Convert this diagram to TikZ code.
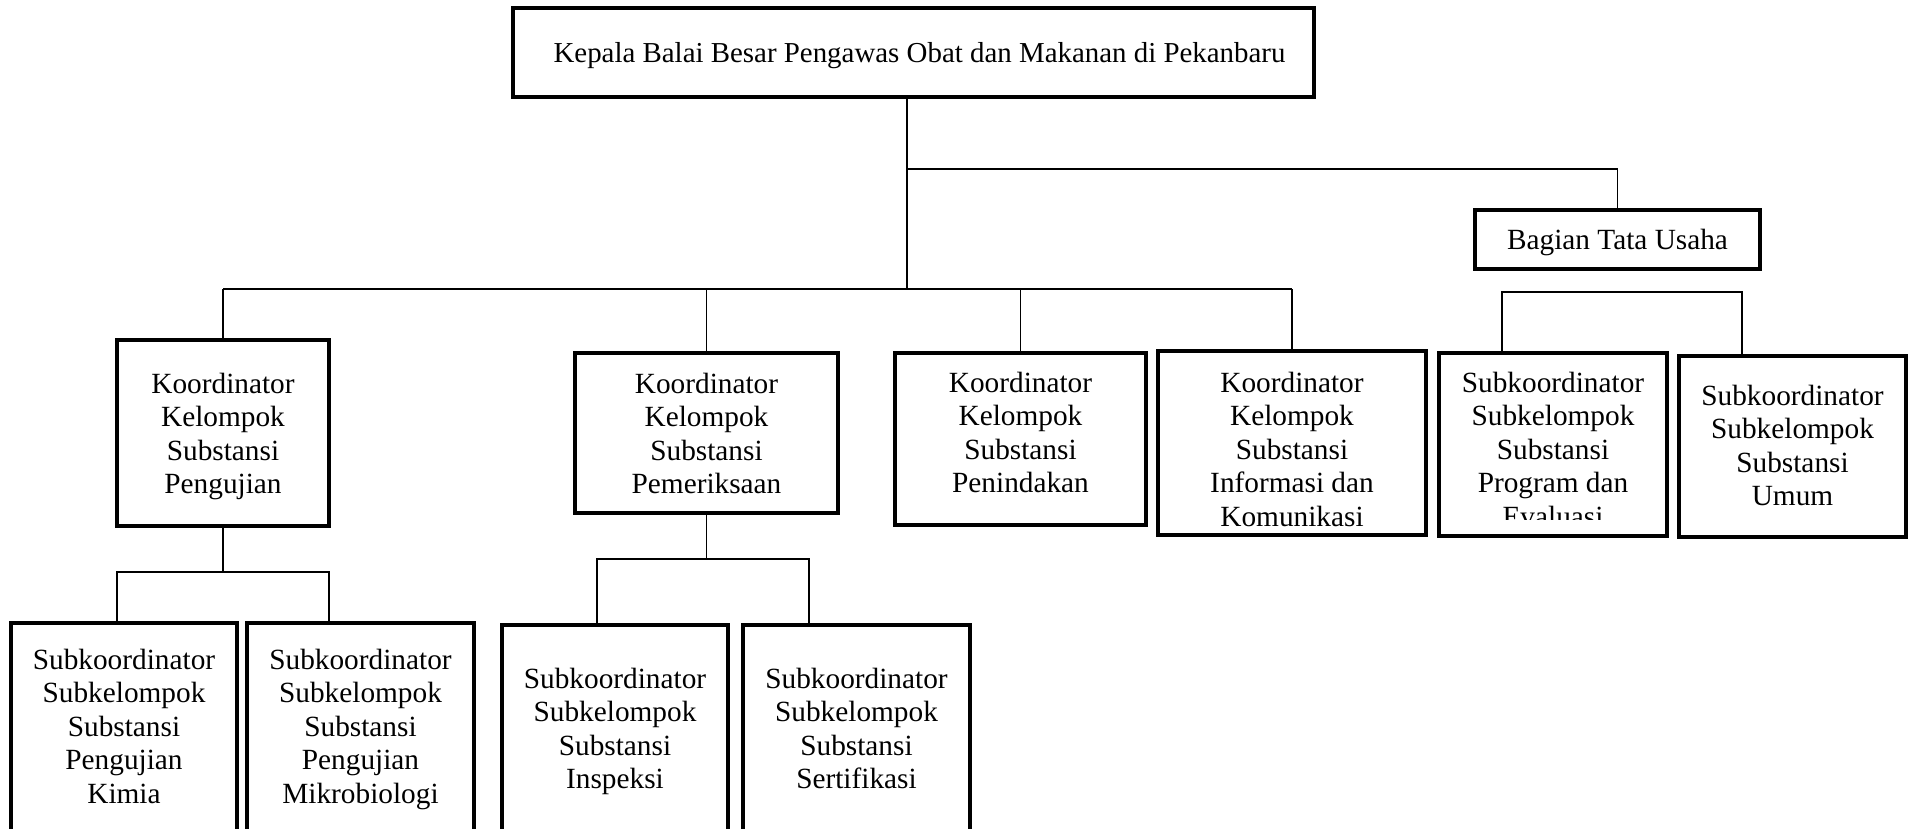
\documentclass[tikz,border=0pt]{standalone}
\usepackage{fontspec}
\setmainfont{Liberation Serif}
\begin{document}
\begin{tikzpicture}[x=1pt,y=-1pt,
  box/.style={draw=black, line width=3.3pt, inner sep=0pt, outer sep=0pt, rectangle},
  txt/.style={inner sep=0pt, outer sep=0pt, align=center, anchor=north, font=\fontsize{29.3}{33.5}\selectfont},
  oneline/.style={font=\fontsize{29.3}{33.5}\selectfont, text depth=0pt},
  link/.style={draw=black, line width=1.4pt}]
\useasboundingbox (0,0) rectangle (1910,829);
\clip (0,0) rectangle (1910,829);

% boxes
\node[box, minimum width=801pt, minimum height=89pt] (top) at (913.5,52.5) {};
\node[oneline, inner sep=0pt, font=\fontsize{28.9}{33.5}\selectfont] (tTop) at (919.5,52.5) {Kepala Balai Besar Pengawas Obat dan Makanan di Pekanbaru};
\node[box, oneline, minimum width=285pt, minimum height=59pt] (tu) at (1617.5,239.5) {Bagian Tata Usaha};

\node[box, minimum width=212pt, minimum height=186pt] (pengujian) at (223,433) {};
\node[box, minimum width=263pt, minimum height=160pt] (pemeriksaan) at (706.5,433) {};
\node[box, minimum width=251pt, minimum height=172pt] (penindakan) at (1020.5,439) {};
\node[box, minimum width=268pt, minimum height=184pt] (informasi) at (1292,443) {};
\node[box, minimum width=228pt, minimum height=183pt] (progeval) at (1553,444.5) {};
\node[box, minimum width=227pt, minimum height=181pt] (umum) at (1792.5,446.5) {};

\node[box, minimum width=226pt, minimum height=227pt] (kimia) at (124,736.5) {};
\node[box, minimum width=227pt, minimum height=227pt] (mikro) at (360.5,736.5) {};
\node[box, minimum width=226pt, minimum height=225pt] (inspeksi) at (615,737.5) {};
\node[box, minimum width=227pt, minimum height=225pt] (sertifikasi) at (856.5,737.5) {};

% texts
\node[txt] (tPengujian) at (223,373) {Koordinator\\Kelompok\\Substansi\\Pengujian};
\node[txt] (tPemeriksaan) at (706.5,373) {Koordinator\\Kelompok\\Substansi\\Pemeriksaan};
\node[txt] (tPenindakan) at (1020.5,372) {Koordinator\\Kelompok\\Substansi\\Penindakan};
\node[txt] (tInformasi) at (1292,372) {Koordinator\\Kelompok\\Substansi\\Informasi dan\\Komunikasi};
\begin{scope}
\clip (1441,355) rectangle (1665,519);
\node[txt] (tProgEval) at (1553,372) {Subkoordinator\\Subkelompok\\Substansi\\Program dan\\Evaluasi};
\end{scope}
\node[txt] (tUmum) at (1792.5,385) {Subkoordinator\\Subkelompok\\Substansi\\Umum};
\node[txt] (tKimia) at (124,649) {Subkoordinator\\Subkelompok\\Substansi\\Pengujian\\Kimia};
\node[txt] (tMikro) at (360.5,649) {Subkoordinator\\Subkelompok\\Substansi\\Pengujian\\Mikrobiologi};
\node[txt] (tInspeksi) at (615,668) {Subkoordinator\\Subkelompok\\Substansi\\Inspeksi};
\node[txt] (tSertifikasi) at (856.5,668) {Subkoordinator\\Subkelompok\\Substansi\\Sertifikasi};

% connectors
\coordinate (j0) at (907,169);
\coordinate (j1) at (907,289);
\draw[link] (top.south -| j1) -- (j1);
\draw[link] (j0) -| (tu.north);
\draw[link] (pengujian.north |- j1) -- (informasi.north |- j1);
\draw[link] (pengujian.north) -- (pengujian.north |- j1);
\draw[link] (pemeriksaan.north) -- (pemeriksaan.north |- j1);
\draw[link] (penindakan.north) -- (penindakan.north |- j1);
\draw[link] (informasi.north) -- (informasi.north |- j1);

\coordinate (tuL) at (1502,292);
\coordinate (tuR) at (1742,292);
\draw[link] (progeval.north -| tuL) -- (tuL) -- (tuR) -- (umum.north -| tuR);

\coordinate (pb) at (0,572);
\draw[link] (pengujian.south) -- (pengujian.south |- pb);
\draw[link] (kimia.north -| pengujian.west) -- (pengujian.west |- pb) -- (pengujian.east |- pb) -- (mikro.north -| pengujian.east);

\coordinate (qL) at (597,559);
\coordinate (qR) at (809,559);
\draw[link] (pemeriksaan.south) -- (pemeriksaan.south |- qL);
\draw[link] (inspeksi.north -| qL) -- (qL) -- (qR) -- (sertifikasi.north -| qR);
\end{tikzpicture}
\end{document}
